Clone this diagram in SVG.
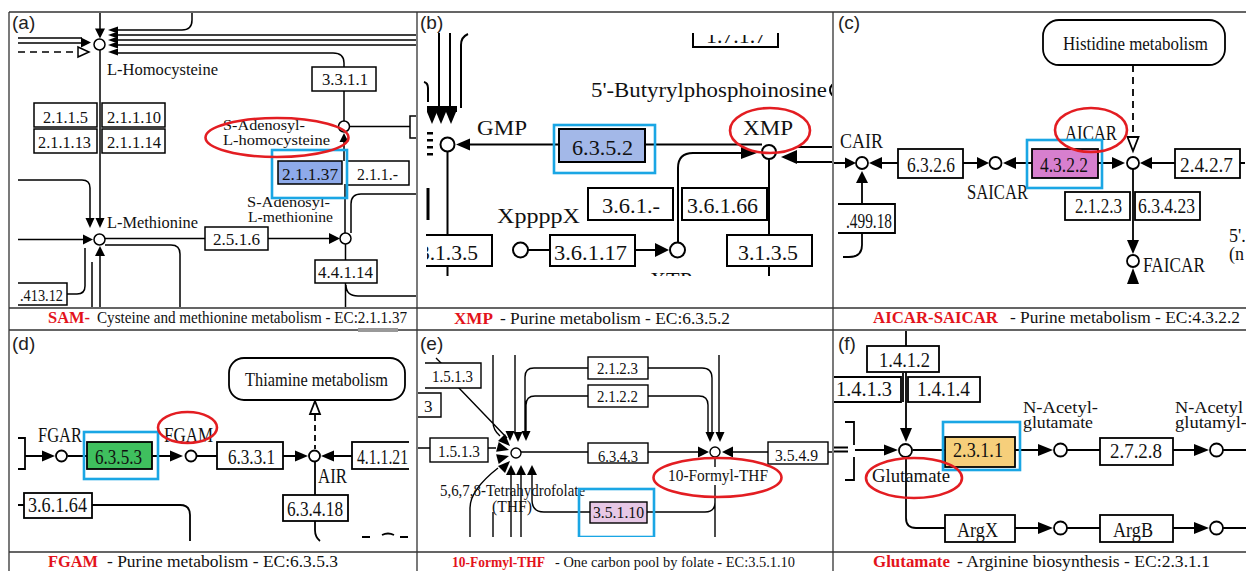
<svg xmlns="http://www.w3.org/2000/svg" xmlns:xlink="http://www.w3.org/1999/xlink" width="1246" height="571" viewBox="0 0 1246 571">
<style>
.ln{fill:none;stroke:#000}
.bx{fill:#fff;stroke:#000}
.nd{fill:#fff;stroke:#000}
.ah{fill:#000}
.oa{fill:#fff;stroke:#000}
.t{font-family:"Liberation Serif","Times New Roman",serif;fill:#111}
.c{text-anchor:middle}
.e{text-anchor:end}
.pl{font-family:"Liberation Sans",Arial,sans-serif;font-size:19px;fill:#222}
.red{fill:#e3131b;font-weight:bold}
.el{fill:none;stroke:#e31d22;stroke-width:2.6}
.hl{fill:none;stroke:#1aa6e4;stroke-width:2.6}
.fr{fill:none;stroke:#333;stroke-width:1.3}
.dsh{stroke-dasharray:7 5}
</style>
<defs>
<path id="ah" d="M0,0 L-10,-5 L-10,5 Z"/>
<clipPath id="clipA"><rect x="10" y="13" width="406" height="294"/></clipPath>
<clipPath id="clipB"><rect x="418" y="13" width="414" height="263"/></clipPath>
<clipPath id="clipB2"><rect x="680" y="35" width="110" height="15"/></clipPath>
<clipPath id="clipB3"><rect x="427" y="230" width="70" height="40"/></clipPath>
<clipPath id="clipC"><rect x="834" y="13" width="411" height="294"/></clipPath>
<clipPath id="clipD"><rect x="10" y="331" width="399" height="220"/></clipPath>
<clipPath id="clipE"><rect x="418" y="331" width="414" height="206"/></clipPath>
<clipPath id="clipF"><rect x="834" y="331" width="412" height="220"/></clipPath>
</defs>
<rect x="0" y="0" width="1246" height="571" fill="#fff"/>

<g id="frame">
<path class="fr" d="M9,12 H1246 M9,12 V571 M417,12 V571 M833,12 V571 M9,308 H1246 M9,330 H1246 M9,552 H1246"/>
<rect x="358" y="328" width="40" height="4" fill="#999"/>
</g>

<!-- ================= Panel (a) ================= -->
<g id="panel-a">
<text class="pl" x="12" y="29">(a)</text>
<g clip-path="url(#clipA)" stroke-width="1.5">
<g id="a-connectors">
<path class="ln" d="M100,13 V29 M100,50 V218 M18,38 H82 M18,43 H82 M118,30 H182 Q192,30 192,20 V13 M118,35 H418 M118,40 H418 M118,45 H418 M118,53 H333 Q344,53 344,63 V67 M344,91 V121 M349.5,126.5 H410 M344,141 V161 M345,184 V233 M351,233 V204 Q351,194 361,194 H418 M105,238.5 H205 M268,238.5 H330 M18,180 H82 Q90,180 90,188 V218 M18,239.5 H83 M92,262 V308 M100,256 V308 M67,294 H77 Q85,294 85,286 V248 M105,245 H171 Q180,245 180,254 V308 M345.5,244 V260 M345.5,283 V308 M346,285 Q346,296 358,296 H418"/>
<path class="ln dsh" d="M18,52 H77"/>
<polygon class="oa" points="78,47 89,52 78,57"/>
<use href="#ah" class="ah" transform="translate(100,38.5) rotate(90)"/>
<use href="#ah" class="ah" transform="translate(91,42.5)"/>
<use href="#ah" class="ah" transform="translate(108,30) rotate(180) scale(1,0.7)"/>
<use href="#ah" class="ah" transform="translate(108,35) rotate(180) scale(1,0.7)"/>
<use href="#ah" class="ah" transform="translate(108,40) rotate(180) scale(1,0.7)"/>
<use href="#ah" class="ah" transform="translate(108,45) rotate(180) scale(1,0.7)"/>
<use href="#ah" class="ah" transform="translate(108,52) rotate(180) scale(1,0.7)"/>
<use href="#ah" class="ah" transform="translate(344,133) rotate(-90) scale(0.9)"/>
<use href="#ah" class="ah" transform="translate(340,238.5) scale(1.1)"/>
<use href="#ah" class="ah" transform="translate(90,228) rotate(90) scale(1,0.9)"/>
<use href="#ah" class="ah" transform="translate(100,228) rotate(90) scale(1,0.9)"/>
<use href="#ah" class="ah" transform="translate(93,239.5)"/>
<use href="#ah" class="ah" transform="translate(100,246) rotate(-90)"/>
</g>
<g id="a-nodes">
<circle class="nd" cx="99.5" cy="44.5" r="5.5"/>
<circle class="nd" cx="344" cy="126.5" r="5.5"/>
<circle class="nd" cx="345.5" cy="238.5" r="5.5"/>
<circle class="nd" cx="99.5" cy="239.5" r="5.5"/>
<path class="bx" d="M420,116 H410 V138 H420"/>
<rect class="bx" x="34" y="103" width="63" height="24"/>
<rect class="bx" x="102" y="103" width="63" height="24"/>
<rect class="bx" x="34" y="129" width="63" height="24"/>
<rect class="bx" x="102" y="129" width="63" height="24"/>
<rect class="bx" x="312" y="67" width="64" height="24"/>
<rect class="bx" x="278" y="161" width="64" height="23" style="fill:#8eaaea"/>
<rect class="bx" x="347" y="161" width="62" height="24"/>
<rect class="bx" x="205" y="227" width="63" height="23"/>
<rect class="bx" x="315" y="260" width="62" height="23"/>
<path class="bx" d="M18,283 H67 V305 H18"/>
</g>
<g id="a-text" class="t" font-size="16.5">
<text x="107" y="75" textLength="111" lengthAdjust="spacingAndGlyphs">L-Homocysteine</text>
<text x="43" y="123" textLength="45" lengthAdjust="spacingAndGlyphs">2.1.1.5</text>
<text x="107" y="123" textLength="54" lengthAdjust="spacingAndGlyphs">2.1.1.10</text>
<text x="38" y="148" textLength="53" lengthAdjust="spacingAndGlyphs">2.1.1.13</text>
<text x="107" y="148" textLength="54" lengthAdjust="spacingAndGlyphs">2.1.1.14</text>
<text x="322" y="85" textLength="46" lengthAdjust="spacingAndGlyphs">3.3.1.1</text>
<text x="223" y="130" textLength="82" lengthAdjust="spacingAndGlyphs" font-size="14.5">S-Adenosyl-</text>
<text x="223" y="145" textLength="107" lengthAdjust="spacingAndGlyphs" font-size="14.5">L-homocysteine</text>
<text x="282" y="180" textLength="56" lengthAdjust="spacingAndGlyphs">2.1.1.37</text>
<text x="357" y="180" textLength="41" lengthAdjust="spacingAndGlyphs">2.1.1.-</text>
<text x="247" y="207" textLength="83" lengthAdjust="spacingAndGlyphs" font-size="14.5">S-Adenosyl-</text>
<text x="248" y="222" textLength="85" lengthAdjust="spacingAndGlyphs" font-size="14.5">L-methionine</text>
<text x="107" y="228" textLength="91" lengthAdjust="spacingAndGlyphs">L-Methionine</text>
<text x="213" y="245" textLength="47" lengthAdjust="spacingAndGlyphs">2.5.1.6</text>
<text x="318" y="278" textLength="55" lengthAdjust="spacingAndGlyphs">4.4.1.14</text>
<text x="20" y="301" textLength="43" lengthAdjust="spacingAndGlyphs">.413.12</text>
</g>
<rect class="hl" x="272" y="150" width="75" height="48"/>
<ellipse class="el" cx="277" cy="137.5" rx="71.5" ry="19.5"/>
</g>
<g class="t" font-size="16">
<text class="red" x="48" y="323" textLength="42" lengthAdjust="spacingAndGlyphs">SAM-</text>
<text x="97" y="323" textLength="310" lengthAdjust="spacingAndGlyphs">Cysteine and methionine metabolism - EC:2.1.1.37</text>
</g>
</g>

<!-- ================= Panel (b) ================= -->
<g id="panel-b">
<text class="pl" x="420" y="29">(b)</text>
<g clip-path="url(#clipB)" stroke-width="2">
<g id="b-connectors">
<path class="ln" d="M439,33 V108 M450,33 V108 M468,34 Q461,37 461,45 V108 M424,82 Q428,83 428,88 V102 M447.5,151.5 V235 M447.5,266 V276 M470,144.5 H762 M678,243 V168 Q678,153 693,153 H745 M798,147 H833 M796,162 H833 M769,159 V235 M769,266 V276 M528,250 H550 M635,250 H656 M693,33 V47 H778 V33"/>
<path class="ln" stroke-width="3" d="M428,188 V220"/>
<rect class="ah" x="427" y="106" width="30" height="6"/>
<use href="#ah" class="ah" transform="translate(432,124) rotate(90) scale(1.2,1)"/>
<use href="#ah" class="ah" transform="translate(441,124) rotate(90) scale(1.2,1)"/>
<use href="#ah" class="ah" transform="translate(451,124) rotate(90) scale(1.2,1)"/>
<rect class="ah" x="427" y="132" width="6" height="2.5"/>
<rect class="ah" x="427" y="139" width="6" height="2.5"/>
<rect class="ah" x="427" y="146" width="6" height="2.5"/>
<rect class="ah" x="427" y="153" width="6" height="2.5"/>
<use href="#ah" class="ah" transform="translate(456,144.5) rotate(180) scale(1.4,1.2)"/>
<use href="#ah" class="ah" transform="translate(757,153) scale(1.6,1.2)"/>
<use href="#ah" class="ah" transform="translate(781,157) rotate(180) scale(1.6,1.4)"/>
<use href="#ah" class="ah" transform="translate(669,250) scale(1.4)"/>
</g>
<g id="b-nodes">
<circle class="nd" cx="447.5" cy="144.5" r="7"/>
<circle class="nd" cx="769" cy="152" r="7"/>
<circle class="nd" cx="520.5" cy="250" r="7.5"/>
<circle class="nd" cx="677.5" cy="250" r="7.5"/>
<circle class="nd" cx="837" cy="90" r="7"/>
<rect class="bx" x="559" y="129" width="86" height="33" style="fill:#a3b8e8"/>
<rect class="bx" x="588" y="188" width="85" height="32"/>
<rect class="bx" x="682" y="188" width="85" height="32"/>
<path class="bx" d="M426,235 H492 V266 H426"/>
<rect class="bx" x="550" y="235" width="85" height="31"/>
<rect class="bx" x="727" y="235" width="85" height="31"/>
</g>
<g id="b-text" class="t" font-size="22">
<text x="477" y="135" textLength="50" lengthAdjust="spacingAndGlyphs">GMP</text>
<text x="572" y="155" textLength="61" lengthAdjust="spacingAndGlyphs">6.3.5.2</text>
<text x="591" y="97" textLength="236" lengthAdjust="spacingAndGlyphs">5'-Butyrylphosphoinosine</text>
<text x="743" y="135" textLength="50" lengthAdjust="spacingAndGlyphs">XMP</text>
<text x="497" y="223" textLength="83" lengthAdjust="spacingAndGlyphs">XppppX</text>
<text x="602" y="213" textLength="58" lengthAdjust="spacingAndGlyphs">3.6.1.-</text>
<text x="687" y="213" textLength="71" lengthAdjust="spacingAndGlyphs">3.6.1.66</text>
<text x="419" y="260" textLength="59" lengthAdjust="spacingAndGlyphs" clip-path="url(#clipB3)">3.1.3.5</text>
<text x="554" y="260" textLength="73" lengthAdjust="spacingAndGlyphs">3.6.1.17</text>
<text x="738" y="260" textLength="60" lengthAdjust="spacingAndGlyphs">3.1.3.5</text>
<text x="650" y="287" textLength="42" lengthAdjust="spacingAndGlyphs">XTP</text>
<text x="706" y="43" textLength="60" lengthAdjust="spacingAndGlyphs" clip-path="url(#clipB2)">1.7.1.7</text>
</g>
<rect class="hl" x="554" y="125" width="101" height="48"/>
<ellipse class="el" cx="770" cy="130.5" rx="40" ry="22.5"/>
</g>
<g class="t" font-size="17">
<text class="red" x="454" y="324" textLength="39" lengthAdjust="spacingAndGlyphs">XMP</text>
<text x="500" y="324" textLength="230" lengthAdjust="spacingAndGlyphs">- Purine metabolism - EC:6.3.5.2</text>
</g>
</g>

<!-- ================= Panel (c) ================= -->
<g id="panel-c">
<text class="pl" x="838" y="29">(c)</text>
<g clip-path="url(#clipC)" stroke-width="1.8">
<g id="c-connectors">
<path class="ln" stroke-dasharray="7 5" d="M1133,65 V135"/>
<path class="ln" d="M1098,163 H1113 M1152,163 H1175 M1240,163 H1246 M1015,163 H1032 M963,163 H977 M882,163 H898 M834,163 H846 M862,183 V204 M862,233 V245 Q862,257 849,257 H843 M1133,169 V240"/>
<polygon class="oa" points="1127.5,137 1138.5,137 1133,151"/>
<use href="#ah" class="ah" transform="translate(1125,163) scale(1.3,1.2)"/>
<use href="#ah" class="ah" transform="translate(1140,163) rotate(180) scale(1.2)"/>
<use href="#ah" class="ah" transform="translate(1003,163) rotate(180) scale(1.3,1.2)"/>
<use href="#ah" class="ah" transform="translate(989,163) scale(1.2)"/>
<use href="#ah" class="ah" transform="translate(869,163) rotate(180) scale(1.3,1.2)"/>
<use href="#ah" class="ah" transform="translate(856,163) scale(1.1)"/>
<use href="#ah" class="ah" transform="translate(862,171) rotate(-90) scale(1.2)"/>
<use href="#ah" class="ah" transform="translate(1133,254) rotate(90) scale(1.4,1.2)"/>
<use href="#ah" class="ah" transform="translate(1133,268) rotate(-90) scale(1.6,1.2)"/>
</g>
<g id="c-nodes">
<circle class="nd" cx="1133" cy="163" r="6"/>
<circle class="nd" cx="995.5" cy="163" r="6"/>
<circle class="nd" cx="862" cy="163" r="6"/>
<circle class="nd" cx="1133" cy="261" r="6"/>
<rect class="bx" x="1043" y="20" width="182" height="45" rx="16"/>
<rect class="bx" x="898" y="149" width="65" height="29"/>
<rect class="bx" x="1032" y="149" width="66" height="29" style="fill:#d77fce"/>
<rect class="bx" x="1175" y="149" width="65" height="29"/>
<path class="bx" d="M838,204 H895 V233 H838"/>
<rect class="bx" x="1065" y="192" width="65" height="28"/>
<rect class="bx" x="1135" y="192" width="65" height="28"/>
</g>
<g id="c-text" class="t" font-size="20">
<text x="1063" y="50" textLength="145" lengthAdjust="spacingAndGlyphs" font-size="19">Histidine metabolism</text>
<text x="1065" y="140" textLength="52" lengthAdjust="spacingAndGlyphs">AICAR</text>
<text x="840" y="148" textLength="43" lengthAdjust="spacingAndGlyphs">CAIR</text>
<text x="907" y="172" textLength="48" lengthAdjust="spacingAndGlyphs">6.3.2.6</text>
<text x="1040" y="172" textLength="48" lengthAdjust="spacingAndGlyphs">4.3.2.2</text>
<text x="1180" y="172" textLength="53" lengthAdjust="spacingAndGlyphs">2.4.2.7</text>
<text x="967" y="199" textLength="61" lengthAdjust="spacingAndGlyphs">SAICAR</text>
<text x="846" y="228" textLength="46" lengthAdjust="spacingAndGlyphs">.499.18</text>
<text x="1075" y="213" textLength="47" lengthAdjust="spacingAndGlyphs">2.1.2.3</text>
<text x="1138" y="213" textLength="57" lengthAdjust="spacingAndGlyphs">6.3.4.23</text>
<text x="1143" y="272" textLength="62" lengthAdjust="spacingAndGlyphs">FAICAR</text>
<text x="1229" y="242" font-size="18">5'.</text>
<text x="1229" y="260" font-size="18">(n</text>
</g>
<rect class="hl" x="1027" y="140" width="75" height="48"/>
<ellipse class="el" cx="1091" cy="130" rx="36" ry="22"/>
</g>
<g class="t" font-size="17">
<text class="red" x="873" y="323" textLength="125" lengthAdjust="spacingAndGlyphs">AICAR-SAICAR</text>
<text x="1010" y="323" textLength="230" lengthAdjust="spacingAndGlyphs">- Purine metabolism - EC:4.3.2.2</text>
</g>
</g>

<!-- ================= Panel (d) ================= -->
<g id="panel-d">
<text class="pl" x="12" y="350">(d)</text>
<g clip-path="url(#clipD)" stroke-width="1.8">
<g id="d-connectors">
<path class="ln" d="M18,438 H25 V469 H18 M25,456 H43 M67.5,456 H87 M152,456 H170 M196,456 H217 M283,456 H296 M334,456 H352 M315,462 V495 M315,521 V530 Q315,537 320,541 M18,505 H24 M92,505 H180 Q190,505 190,515 V541 M362,537 H370 M382,535 Q388,532 394,535 M400,537 H408"/>
<path class="ln" stroke-dasharray="6 4" d="M315,415 V449"/>
<polygon class="oa" points="315,401 310,414 320,414"/>
<use href="#ah" class="ah" transform="translate(55,456) scale(1.3,1.1)"/>
<use href="#ah" class="ah" transform="translate(183,456) scale(1.3,1.1)"/>
<use href="#ah" class="ah" transform="translate(308,456) scale(1.3,1.1)"/>
<use href="#ah" class="ah" transform="translate(321,456) rotate(180) scale(1.3,1.1)"/>
</g>
<g id="d-nodes">
<circle class="nd" cx="61.5" cy="456" r="5.5"/>
<circle class="nd" cx="191" cy="456" r="5.5"/>
<circle class="nd" cx="314.5" cy="456" r="5.5"/>
<rect class="bx" x="229" y="358" width="176" height="42" rx="15"/>
<rect class="bx" x="87" y="442" width="65" height="27" style="fill:#3fbf5e"/>
<rect class="bx" x="217" y="442" width="66" height="27"/>
<rect class="bx" x="352" y="442" width="70" height="27"/>
<rect class="bx" x="283" y="495" width="65" height="26"/>
<rect class="bx" x="24" y="493" width="68" height="25"/>
</g>
<g id="d-text" class="t" font-size="20">
<text x="245" y="386" textLength="143" lengthAdjust="spacingAndGlyphs" font-size="19">Thiamine metabolism</text>
<text x="38" y="442" textLength="44" lengthAdjust="spacingAndGlyphs">FGAR</text>
<text x="95" y="464" textLength="47" lengthAdjust="spacingAndGlyphs">6.3.5.3</text>
<text x="164" y="442" textLength="49" lengthAdjust="spacingAndGlyphs">FGAM</text>
<text x="228" y="464" textLength="47" lengthAdjust="spacingAndGlyphs">6.3.3.1</text>
<text x="357" y="464" textLength="51" lengthAdjust="spacingAndGlyphs">4.1.1.21</text>
<text x="318" y="483" textLength="29" lengthAdjust="spacingAndGlyphs">AIR</text>
<text x="287" y="516" textLength="56" lengthAdjust="spacingAndGlyphs">6.3.4.18</text>
<text x="28" y="512" textLength="59" lengthAdjust="spacingAndGlyphs">3.6.1.64</text>
</g>
<rect class="hl" x="84" y="432" width="74" height="47"/>
<ellipse class="el" cx="187.5" cy="427.5" rx="29.5" ry="15.5"/>
</g>
<g class="t" font-size="17">
<text class="red" x="48" y="567" textLength="50" lengthAdjust="spacingAndGlyphs">FGAM</text>
<text x="107" y="567" textLength="231" lengthAdjust="spacingAndGlyphs">- Purine metabolism - EC:6.3.5.3</text>
</g>
</g>

<!-- ================= Panel (e) ================= -->
<g id="panel-e">
<text class="pl" x="420" y="350">(e)</text>
<g clip-path="url(#clipE)" stroke-width="1.4">
<g id="e-connectors">
<path class="ln" d="M436,358 L442,364 M458,387 L507,438 M418,448 H430 M488,448 H496 M493,355 V422 Q493,430 500,436 M515,355 V432 M588,368 H534 Q525,368 525,377 V432 M588,396 H535 Q526,396 526,405 V432 M648,368 H702 Q712,368 712,378 V432 M648,396 H699 Q708,396 708,405 V432 M719,355 V432 M521,452 H588 M648,452 H698 M733,452 H768 M828,452 H833 M511,474 V537 M521,474 V537 M532,474 V500 Q532,512 544,512 H590 M470,537 V508 Q470,490 498,468 M493,512 V537 M647,512 H705 Q715,512 715,502 M715,457 V537"/>
<use href="#ah" class="ah" transform="translate(510,441) rotate(90) scale(1,0.9)"/>
<use href="#ah" class="ah" transform="translate(518,442) rotate(90) scale(1,0.9)"/>
<use href="#ah" class="ah" transform="translate(526,441) rotate(90) scale(1,0.9)"/>
<use href="#ah" class="ah" transform="translate(510,446) rotate(45) scale(1.2,1)"/>
<use href="#ah" class="ah" transform="translate(509,450) rotate(15) scale(1.2,1)"/>
<use href="#ah" class="ah" transform="translate(509,456) rotate(-15) scale(1.2,1)"/>
<use href="#ah" class="ah" transform="translate(510,461) rotate(-45) scale(1.2,1)"/>
<use href="#ah" class="ah" transform="translate(511,465) rotate(-90)"/>
<use href="#ah" class="ah" transform="translate(521,465) rotate(-90)"/>
<use href="#ah" class="ah" transform="translate(532,465) rotate(-90)"/>
<use href="#ah" class="ah" transform="translate(710,442) rotate(90) scale(1,0.9)"/>
<use href="#ah" class="ah" transform="translate(720,442) rotate(90) scale(1,0.9)"/>
<use href="#ah" class="ah" transform="translate(709,452) scale(1.1)"/>
<use href="#ah" class="ah" transform="translate(722,452) rotate(180) scale(1.1)"/>
</g>
<g id="e-nodes">
<circle class="nd" cx="516" cy="453" r="5"/>
<circle class="nd" cx="715" cy="452" r="5"/>
<path class="bx" d="M425,363 H481 V388 H425"/>
<path class="bx" d="M418,393 H441 V417 H418"/>
<rect class="bx" x="430" y="438" width="58" height="24"/>
<rect class="bx" x="588" y="357" width="60" height="22"/>
<rect class="bx" x="588" y="385" width="60" height="22"/>
<rect class="bx" x="588" y="443" width="60" height="20"/>
<rect class="bx" x="768" y="442" width="60" height="22"/>
<rect class="bx" x="590" y="502" width="57" height="21" style="fill:#e7c8e6"/>
<rect x="666" y="467" width="104" height="18" fill="#fff"/>
</g>
<g id="e-text" class="t" font-size="17">
<text x="432" y="382" textLength="41" lengthAdjust="spacingAndGlyphs">1.5.1.3</text>
<text x="424" y="412">3</text>
<text x="438" y="457" textLength="42" lengthAdjust="spacingAndGlyphs">1.5.1.3</text>
<text x="597" y="374" textLength="41" lengthAdjust="spacingAndGlyphs">2.1.2.3</text>
<text x="597" y="402" textLength="41" lengthAdjust="spacingAndGlyphs">2.1.2.2</text>
<text x="598" y="462" textLength="40" lengthAdjust="spacingAndGlyphs">6.3.4.3</text>
<text x="775" y="461" textLength="43" lengthAdjust="spacingAndGlyphs">3.5.4.9</text>
<text x="440" y="496" textLength="145" lengthAdjust="spacingAndGlyphs" font-size="16">5,6,7,8-Tetrahydrofolate</text>
<text x="492" y="512" textLength="40" lengthAdjust="spacingAndGlyphs" font-size="16">(THF)</text>
<text x="593" y="518" textLength="51" lengthAdjust="spacingAndGlyphs">3.5.1.10</text>
<text x="668" y="481" textLength="100" lengthAdjust="spacingAndGlyphs">10-Formyl-THF</text>
</g>
<rect class="hl" x="579" y="489" width="75" height="48"/>
<ellipse class="el" cx="717.5" cy="477.5" rx="64" ry="19.5"/>
</g>
<g class="t" font-size="15">
<text class="red" x="452" y="567" textLength="93" lengthAdjust="spacingAndGlyphs">10-Formyl-THF</text>
<text x="555" y="567" textLength="240" lengthAdjust="spacingAndGlyphs">- One carbon pool by folate - EC:3.5.1.10</text>
</g>
</g>

<!-- ================= Panel (f) ================= -->
<g id="panel-f">
<text class="pl" x="838" y="350">(f)</text>
<g clip-path="url(#clipF)" stroke-width="1.8">
<g id="f-connectors">
<path class="ln" d="M906,331 V346 M906,372 V430 M903,373 V402 M845,422 H854 V445 M854,457 V480 H845 M834,447.5 H848 M834,451.5 H848 M855,450 H886 M912.5,450 H945 M1015,450 H1040 M1067,450 H1100 M1173,450 H1196 M1223,450 H1246 M906,457 V518 Q906,528 916,528 H945 M1015,528 H1040 M1067,528 H1100 M1173,528 H1196 M1223,528 H1246"/>
<use href="#ah" class="ah" transform="translate(906,442) rotate(90) scale(1.4,1.2)"/>
<use href="#ah" class="ah" transform="translate(898,450) scale(1.4,1.1)"/>
<use href="#ah" class="ah" transform="translate(1053,450) scale(1.5,1.2)"/>
<use href="#ah" class="ah" transform="translate(1209,450) scale(1.5,1.2)"/>
<use href="#ah" class="ah" transform="translate(1053,528) scale(1.5,1.2)"/>
<use href="#ah" class="ah" transform="translate(1209,528) scale(1.5,1.2)"/>
</g>
<g id="f-nodes">
<circle class="nd" cx="905.5" cy="450.5" r="6.5"/>
<circle class="nd" cx="1060.5" cy="450" r="6.5"/>
<circle class="nd" cx="1216.5" cy="450" r="6.5"/>
<circle class="nd" cx="1060.5" cy="528" r="6.5"/>
<circle class="nd" cx="1216.5" cy="528" r="6.5"/>
<rect class="bx" x="867" y="346" width="72" height="26"/>
<path class="bx" d="M833,377 H901 V402 H833"/>
<rect class="bx" x="908" y="377" width="72" height="25"/>
<rect class="bx" x="945" y="437" width="70" height="30" style="fill:#f6cf7b"/>
<rect class="bx" x="1100" y="438" width="73" height="27"/>
<rect class="bx" x="945" y="515" width="70" height="27"/>
<rect class="bx" x="1100" y="515" width="73" height="27"/>
</g>
<g id="f-text" class="t" font-size="20">
<text x="879" y="367" textLength="51" lengthAdjust="spacingAndGlyphs">1.4.1.2</text>
<text x="836" y="396" textLength="56" lengthAdjust="spacingAndGlyphs">1.4.1.3</text>
<text x="917" y="396" textLength="53" lengthAdjust="spacingAndGlyphs">1.4.1.4</text>
<text x="1023" y="413" textLength="75" lengthAdjust="spacingAndGlyphs" font-size="16">N-Acetyl-</text>
<text x="1023" y="428" textLength="70" lengthAdjust="spacingAndGlyphs" font-size="16">glutamate</text>
<text x="953" y="457" textLength="50" lengthAdjust="spacingAndGlyphs">2.3.1.1</text>
<text x="1110" y="458" textLength="52" lengthAdjust="spacingAndGlyphs">2.7.2.8</text>
<text x="1175" y="413" textLength="68" lengthAdjust="spacingAndGlyphs" font-size="16">N-Acetyl</text>
<text x="1175" y="428" textLength="72" lengthAdjust="spacingAndGlyphs" font-size="16">glutamyl-</text>
<text x="872" y="482" textLength="78" lengthAdjust="spacingAndGlyphs" font-size="18">Glutamate</text>
<text x="957" y="537" textLength="41" lengthAdjust="spacingAndGlyphs">ArgX</text>
<text x="1113" y="537" textLength="40" lengthAdjust="spacingAndGlyphs">ArgB</text>
</g>
<rect class="hl" x="943" y="422" width="77" height="48"/>
<ellipse class="el" cx="914" cy="478" rx="48" ry="20"/>
</g>
<g class="t" font-size="17">
<text class="red" x="873" y="567" textLength="77" lengthAdjust="spacingAndGlyphs">Glutamate</text>
<text x="957" y="567" textLength="253" lengthAdjust="spacingAndGlyphs">- Arginine biosynthesis - EC:2.3.1.1</text>
</g>
</g>
</svg>
